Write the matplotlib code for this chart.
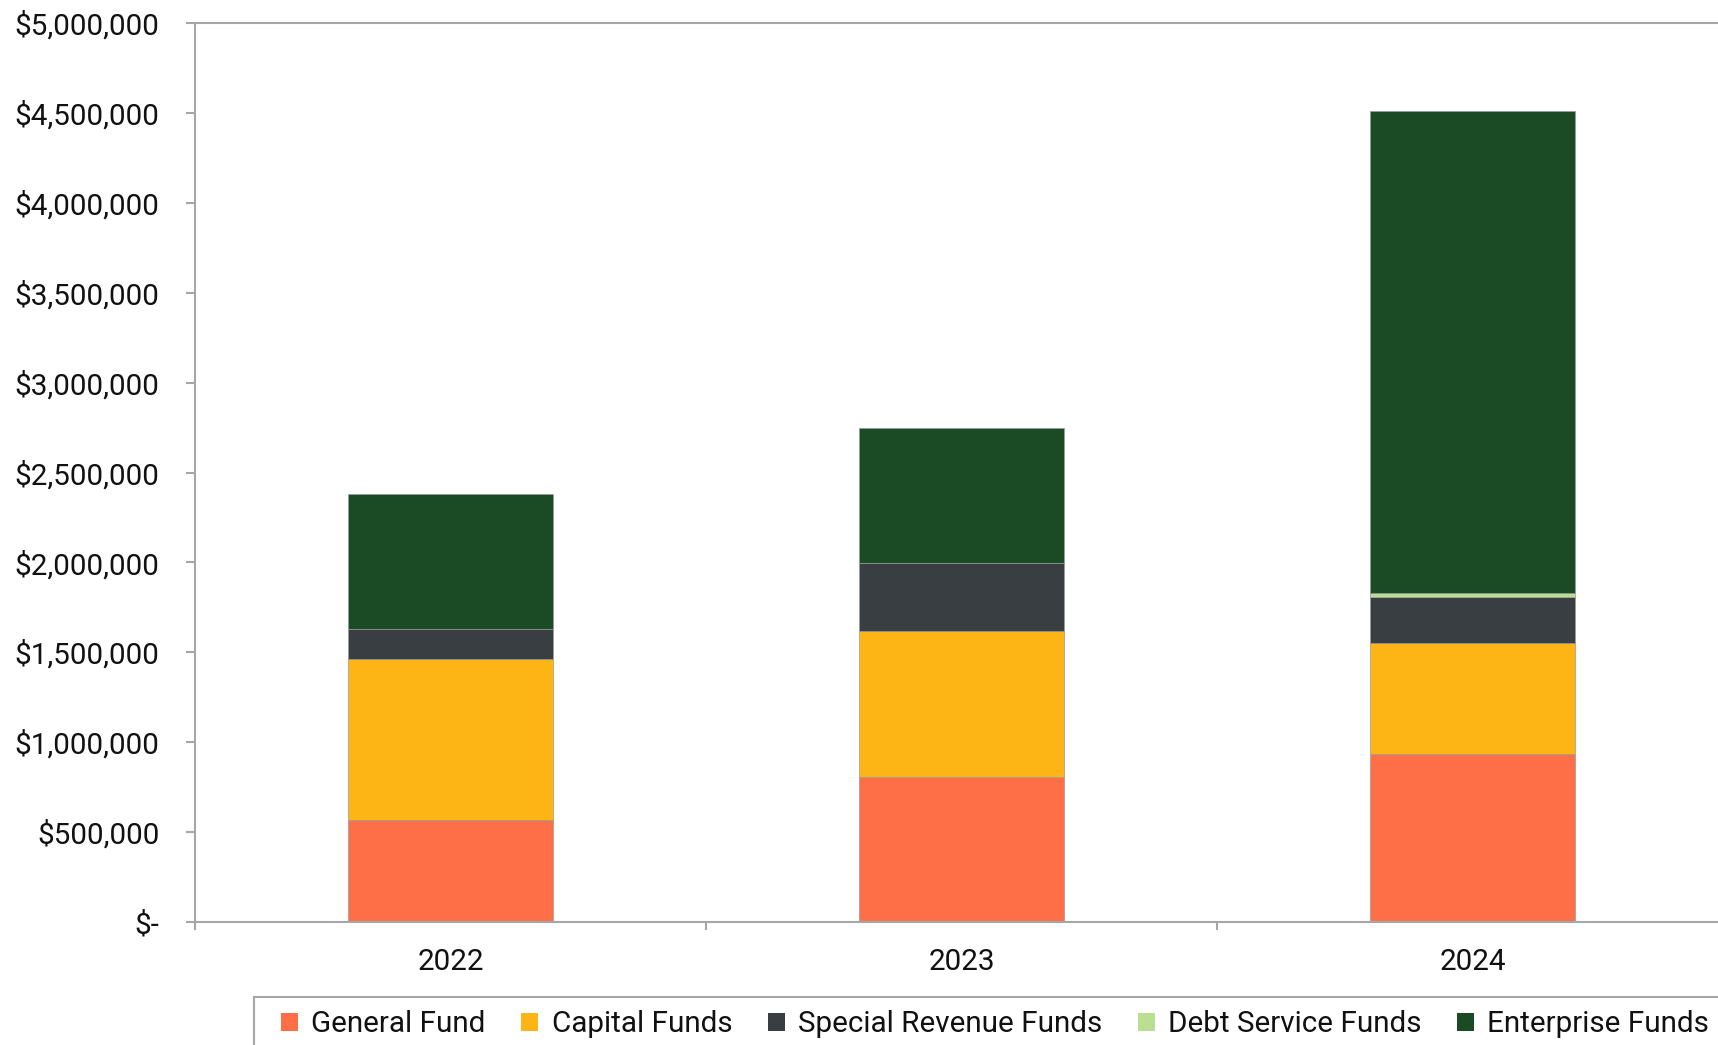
import matplotlib
matplotlib.use("Agg")
import matplotlib.pyplot as plt
from matplotlib.patches import Patch, Rectangle
from matplotlib.ticker import FixedLocator, FuncFormatter
import numpy as np

plt.rcParams['font.family'] = ['Roboto', 'DejaVu Sans']

years = ["2022", "2023", "2024"]
series_names = ["General Fund", "Capital Funds", "Special Revenue Funds",
                "Debt Service Funds", "Enterprise Funds"]
general_fund = [570000, 807000, 936000]
capital_funds = [891000, 813000, 614000]
special_revenue_funds = [167000, 375000, 256000]
debt_service_funds = [0, 0, 22000]
enterprise_funds = [752000, 751000, 2684000]
colors = ["#FF6F47", "#FDB515", "#393E42", "#BADF93", "#1B4B25"]
yticks = [0, 500000, 1000000, 1500000, 2000000, 2500000, 3000000,
          3500000, 4000000, 4500000, 5000000]

series = [general_fund, capital_funds, special_revenue_funds,
          debt_service_funds, enterprise_funds]

W, H = 1718, 1045
FS = 21.3
fig = plt.figure(figsize=(W / 100, H / 100), dpi=100)
ax = fig.add_axes([195 / W, 1 - 922 / H, 1533 / W, 899 / H])

x = np.arange(len(years))
bottom = np.zeros(len(years))
for name, vals, c in zip(series_names, series, colors):
    ax.bar(x, vals, width=0.40, bottom=bottom, color=c, edgecolor="#9a9a9a",
           linewidth=0.5, label=name, zorder=2)
    bottom += np.array(vals)

ax.set_xlim(-0.5, 2.5)
ax.set_ylim(0, 5000000)

gray = "#A6A6A6"
for s in ["left", "top", "bottom", "right"]:
    ax.spines[s].set_color(gray)
    ax.spines[s].set_linewidth(1.5)

ax.yaxis.set_major_locator(FixedLocator(yticks))


def fmt(v, pos):
    if v == 0:
        return "$-"
    return "${:,.0f}".format(v)


ax.yaxis.set_major_formatter(FuncFormatter(fmt))
ax.tick_params(axis="y", direction="out", length=6.5, width=1.5, color=gray,
               labelsize=FS, pad=19, labelcolor="#111111")

ax.xaxis.set_major_locator(FixedLocator([-0.5, 0.5, 1.5, 2.5]))
ax.xaxis.set_major_formatter(FuncFormatter(lambda v, p: ""))
ax.xaxis.set_minor_locator(FixedLocator(x))
ax.set_xticks(x, minor=True)
ax.set_xticklabels(years, minor=True)
ax.tick_params(axis="x", which="major", direction="out", length=6, width=1.5,
               color=gray)
ax.tick_params(axis="x", which="minor", length=0, labelsize=FS, pad=18.5,
               labelcolor="#111111")

handles = [Patch(facecolor=c, edgecolor="none") for c in colors]
leg = fig.legend(handles, series_names, loc="upper left",
                 bbox_to_anchor=(281 / W, 1 - 1010.5 / H), ncol=5,
                 frameon=False, fontsize=FS, handlelength=0.575,
                 handleheight=0.575, handletextpad=0.45, columnspacing=1.2,
                 borderpad=0.0, borderaxespad=0.0)
for t in leg.get_texts():
    t.set_color("#111111")

fig.add_artist(Rectangle((254 / W, -0.2), 1.0, 0.2 + (H - 996.5) / H,
                         transform=fig.transFigure, fill=False,
                         edgecolor=gray, linewidth=1.5))

fig.savefig("out.png", dpi=100)
